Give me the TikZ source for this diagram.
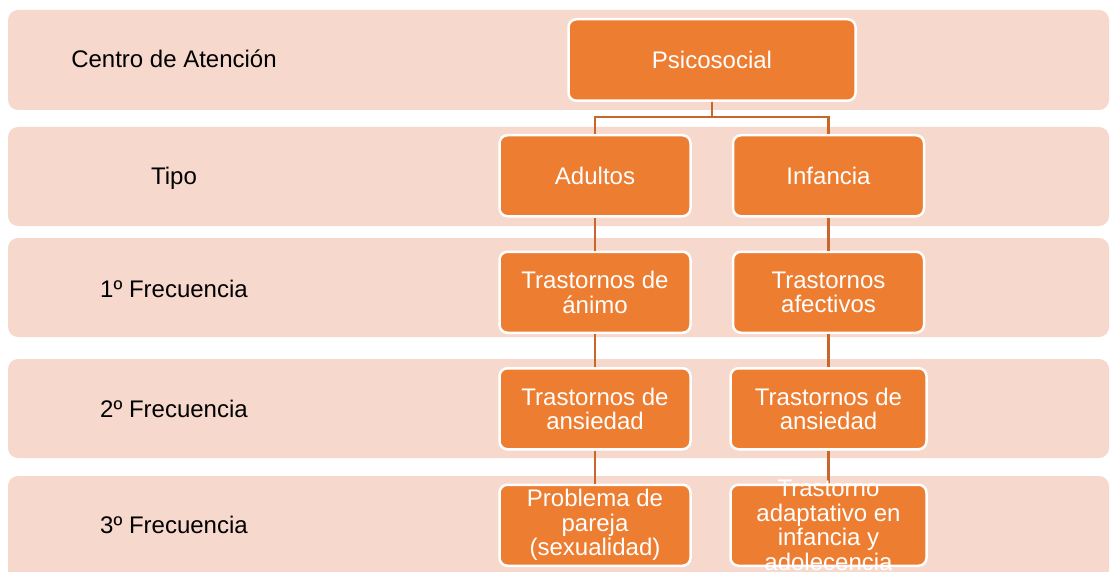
\documentclass[tikz,border=0pt]{standalone}
\usepackage{fontspec}
\setmainfont{Liberation Sans}
\usepackage{tikz}
\usetikzlibrary{positioning}

\definecolor{bandpink}{HTML}{F7D8CD}
\definecolor{boxorange}{HTML}{ED7D31}
\definecolor{linkorange}{HTML}{C8662C}

\begin{document}
\begin{tikzpicture}
  [
    x = 1pt, y = -1pt,
    node distance = 33pt and 40pt,
    band/.style = {fill=bandpink, rounded corners=10pt},
    rowlabel/.style = {anchor=base, text=black, font=\fontsize{24}{24.5}\selectfont},
    box/.style = {rectangle, rounded corners=8pt, draw=white, line width=2.5pt,
                  fill=boxorange, text=white, align=center, inner sep=2pt,
                  minimum width=191pt, minimum height=81pt,
                  font=\fontsize{24}{24.5}\selectfont},
    widebox/.style = {box, minimum width=196pt},
    boxtext/.style = {text=white, align=center, inner sep=0pt,
                      font=\fontsize{24}{24.5}\selectfont},
    link/.style = {draw=linkorange, line width=2.2pt},
  ]

  \clip (0,0) rectangle (1110,572);

  % row bands
  \fill[band] (8,10) rectangle (1109,110);
  \fill[band] (8,127) rectangle (1109,226);
  \fill[band] (8,238) rectangle (1109,337);
  \fill[band] (8,359) rectangle (1109,458);
  \fill[band] (8,476) rectangle (1109,610);

  \node[rowlabel] (lbl_centro) at (174,68) {Centro de Atención};
  \node[rowlabel] (lbl_tipo) at (174,185) {Tipo};
  \node[rowlabel] (lbl_frec1) at (174,297) {1º Frecuencia};
  \node[rowlabel] (lbl_frec2) at (174,417) {2º Frecuencia};
  \node[rowlabel] (lbl_frec3) at (174,533) {3º Frecuencia};

  \node[box, minimum width=287pt, minimum height=81.5pt] (psico) at (712,60) {Psicosocial};

  \node[box] [below = 32pt of psico, xshift = -117pt] (adultos) {Adultos};
  \node[box] [below = 32pt of psico, xshift = 116.5pt] (infancia) {Infancia};

  \draw[link] (psico.south) -- ++(0,15) -| (adultos.north);
  \draw[link] (psico.south) -- ++(0,15) -| (infancia.north);

  \node[box] [below = of adultos] (animo_adu) {Trastornos de\\ánimo}
    edge[link](adultos);
  \node[box] [below = of infancia] (afect_inf) {Trastornos\\afectivos}
    edge[link](infancia);

  \node[box] [below = of animo_adu] (ansied_adu) {Trastornos de\\ansiedad}
    edge[link](animo_adu);
  \node[widebox] [below = of afect_inf] (ansied_inf) {Trastornos de\\ansiedad}
    edge[link](afect_inf);

  \node[box] [below = of ansied_adu] (pareja_adu) {Problema de\\pareja\\(sexualidad)}
    edge[link](ansied_adu);
  \node[widebox] [below = of ansied_inf] (adapt_inf) {}
    edge[link](ansied_inf);
  \node[boxtext] (adapt_txt) at (adapt_inf) {Trastorno\\adaptativo en\\infancia y\\adolecencia};

\end{tikzpicture}
\end{document}
